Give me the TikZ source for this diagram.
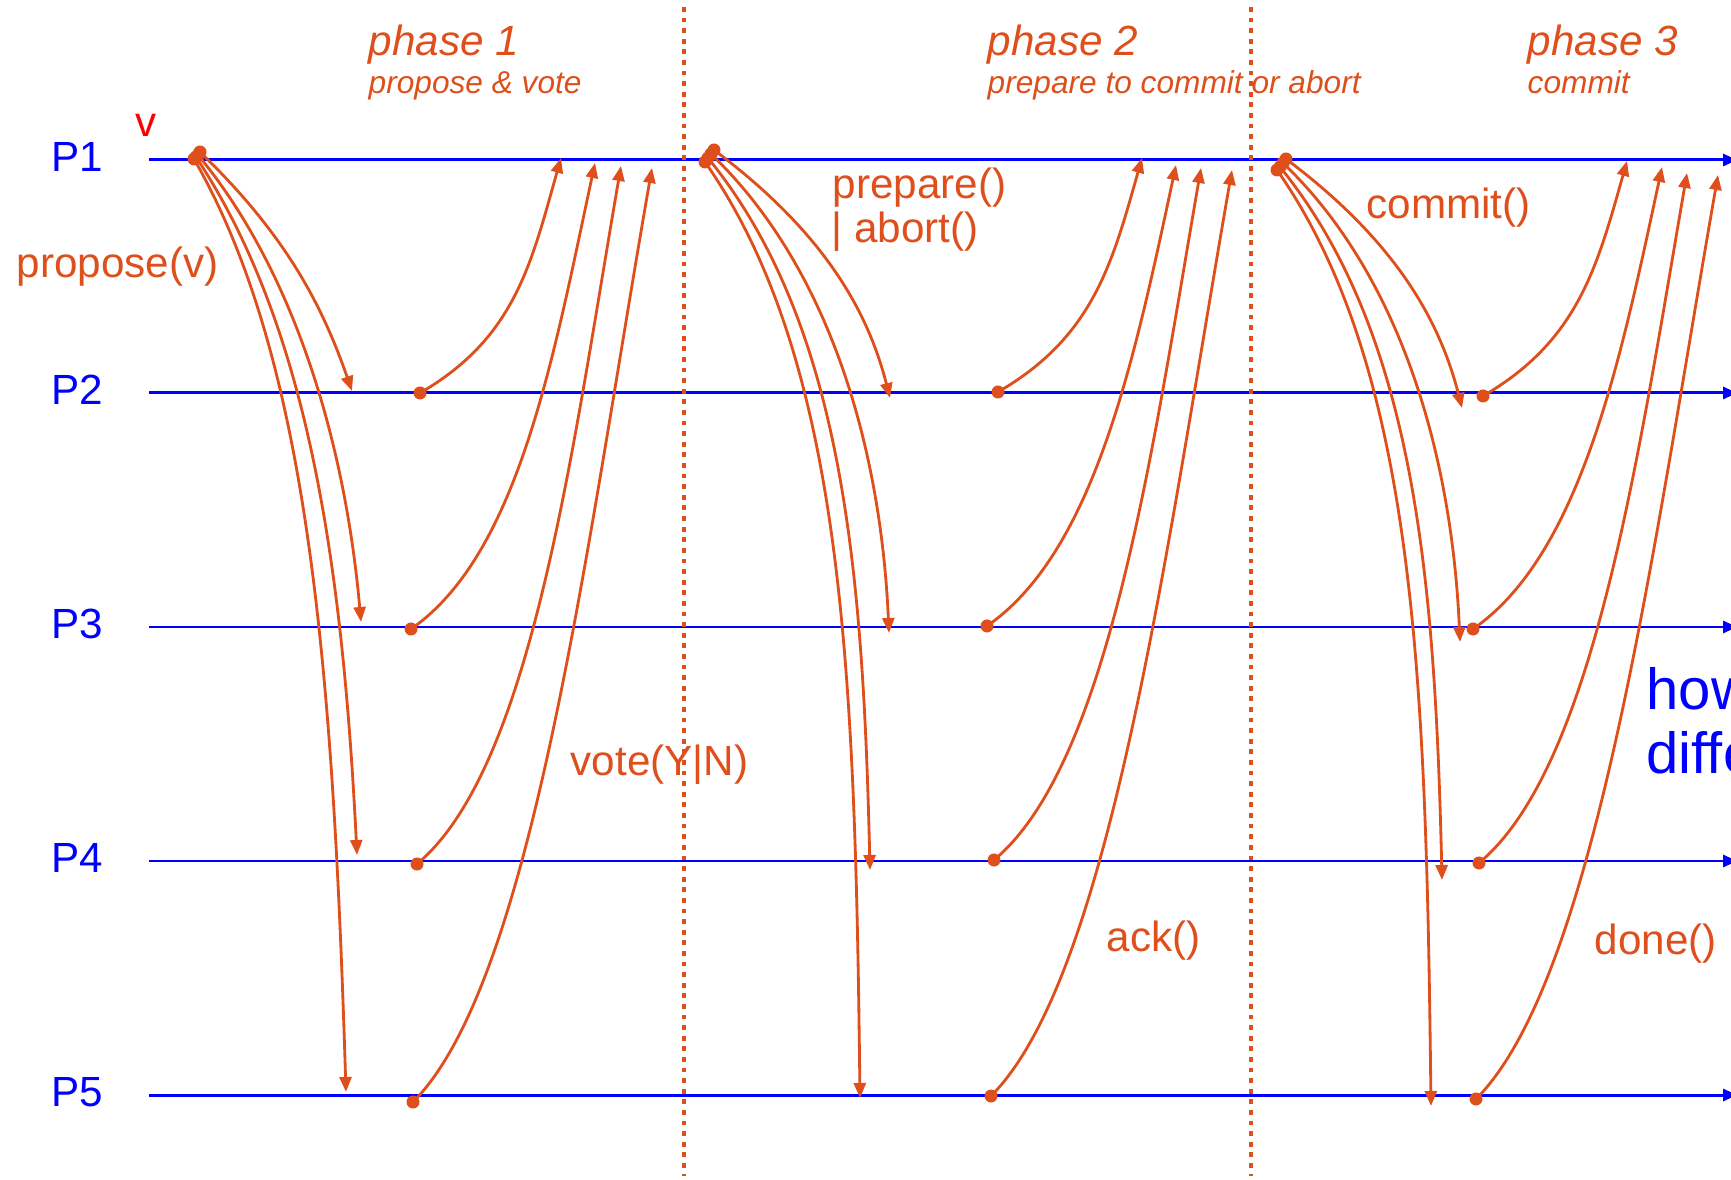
\documentclass[tikz,border=0pt]{standalone}
\usepackage{fontspec}
\setmainfont{Liberation Sans}
\usetikzlibrary{arrows.meta}
\definecolor{orng}{RGB}{222,79,28}
\definecolor{pblue}{RGB}{0,0,255}

\begin{document}
\begin{tikzpicture}[x=0.01cm,y=-0.01cm,
  tline/.style={pblue,line width=0.85pt,-{Triangle[length=0.14cm,width=0.12cm]}},
  sepline/.style={orng,line width=0.048cm,dash pattern=on 0.048cm off 0.058cm},
  msg/.style={orng,line width=0.8pt,-{Triangle[length=0.15cm,width=0.12cm]}},
  plbl/.style={pblue,inner sep=0pt,anchor=west,font=\fontsize{12}{14}\selectfont},
  lbl/.style={orng,inner sep=0pt,anchor=base west,font=\fontsize{12}{14}\selectfont},
  phase/.style={lbl,font=\fontsize{12}{14}\selectfont\itshape},
  phasesub/.style={lbl,font=\fontsize{9}{11}\selectfont\itshape},
  note/.style={pblue,inner sep=0pt,anchor=base west,font=\fontsize{16.5}{18}\selectfont}]
\useasboundingbox (0,0) rectangle (1731,1180);
\clip (0,0) rectangle (1731,1180);

% process lines
\coordinate (a1) at (149,160);  \coordinate (b1) at (1737,160);
\coordinate (a2) at (149,393);  \coordinate (b2) at (1737,393);
\coordinate (a3) at (149,627);  \coordinate (b3) at (1737,627);
\coordinate (a4) at (149,861);  \coordinate (b4) at (1737,861);
\coordinate (a5) at (149,1095); \coordinate (b5) at (1737,1095);
\draw[tline] (a1) -- (b1);
\draw[tline] (a2) -- (b2);
\draw[tline] (a3) -- (b3);
\draw[tline] (a4) -- (b4);
\draw[tline] (a5) -- (b5);
\node[plbl] (lp1) at (51,157) {P1};
\node[plbl] (lp2) at (51,390) {P2};
\node[plbl] (lp3) at (51,624) {P3};
\node[plbl] (lp4) at (51,858) {P4};
\node[plbl] (lp5) at (51,1092) {P5};

% labels
\node[lbl,text=red] (vl) at (135,137) {v};
\node[lbl] (prop) at (16,278) {propose(v)};
\node[phase] (ph1) at (368,56) {phase 1};
\node[phasesub] (ph1s) at (368,94) {propose \& vote};
\node[phase] (ph2) at (987,56) {phase 2};
\node[phasesub] (ph2s) at (987,94) {prepare to commit or abort};
\node[phase] (ph3) at (1527,56) {phase 3};
\node[phasesub] (ph3s) at (1527,94) {commit};
\node[lbl] (prep) at (832,199) {prepare()};
\node[lbl] (abrt) at (831,243) {| abort()};
\node[lbl] (cmt) at (1366,219) {commit()};
\node[lbl] (vote) at (570,775) {vote(Y|N)};
\node[lbl] (ack) at (1106,951) {ack()};
\node[lbl] (done) at (1594,954) {done()};
\node[note] (how) at (1646,710) {how};
\node[note] (diff) at (1646,773) {different};

% phase borders
\coordinate (q1) at (684,7);  \coordinate (q1b) at (684,1176);
\coordinate (q2) at (1251,7); \coordinate (q2b) at (1251,1176);
\draw[sepline] (q1) -- (q1b);
\draw[sepline] (q2) -- (q2b);

% phase 1
\coordinate (s12) at (200,152); \coordinate (t12) at (352,391);
\coordinate (s13) at (198,155); \coordinate (t13) at (361,622);
\coordinate (s14) at (196,157); \coordinate (t14) at (357,855);
\coordinate (s15) at (194,159); \coordinate (t15) at (346,1092);
\coordinate (d12) at (420,393);  \coordinate (u12) at (561,158);
\coordinate (d13) at (411,629);  \coordinate (u13) at (595,163);
\coordinate (d14) at (417,864);  \coordinate (u14) at (621,166);
\coordinate (d15) at (413,1102); \coordinate (u15) at (652,168);
\draw[msg] (s12) .. controls +(86,83) and +(-30,-86) .. (t12);
\draw[msg] (s13) .. controls +(96,116) and +(-16,-180) .. (t13);
\draw[msg] (s14) .. controls +(110,166) and +(-15,-300) .. (t14);
\draw[msg] (s15) .. controls +(115,200) and +(-13,-420) .. (t15);
\draw[msg] (d12) .. controls +(95,-55) and +(-30,106) .. (u12);
\draw[msg] (d13) .. controls +(107,-74) and +(-42,196) .. (u13);
\draw[msg] (d14) .. controls +(115,-96) and +(-49,284) .. (u14);
\draw[msg] (d15) .. controls +(120,-120) and +(-65,372) .. (u15);

% phase 2
\coordinate (s22) at (714,150); \coordinate (t22) at (890,398);
\coordinate (s23) at (711,154); \coordinate (t23) at (889,633);
\coordinate (s24) at (708,158); \coordinate (t24) at (870,870);
\coordinate (s25) at (705,162); \coordinate (t25) at (860,1098);
\coordinate (d22) at (998,392);  \coordinate (u22) at (1142,158);
\coordinate (d23) at (987,626);  \coordinate (u23) at (1176,165);
\coordinate (d24) at (994,860);  \coordinate (u24) at (1201,168);
\coordinate (d25) at (991,1096); \coordinate (u25) at (1232,170);
\draw[msg] (s22) .. controls +(111,83) and +(-22,-86) .. (t22);
\draw[msg] (s23) .. controls +(121,116) and +(-8,-180) .. (t23);
\draw[msg] (s24) .. controls +(135,166) and +(-7,-300) .. (t24);
\draw[msg] (s25) .. controls +(140,200) and +(-5,-420) .. (t25);
\draw[msg] (d22) .. controls +(95,-55) and +(-30,106) .. (u22);
\draw[msg] (d23) .. controls +(107,-74) and +(-42,196) .. (u23);
\draw[msg] (d24) .. controls +(115,-96) and +(-49,284) .. (u24);
\draw[msg] (d25) .. controls +(120,-120) and +(-65,372) .. (u25);

% phase 3
\coordinate (s32) at (1286,159); \coordinate (t32) at (1462,408);
\coordinate (s33) at (1283,163); \coordinate (t33) at (1460,642);
\coordinate (s34) at (1280,167); \coordinate (t34) at (1442,880);
\coordinate (s35) at (1277,170); \coordinate (t35) at (1431,1106);
\coordinate (d32) at (1483,396);  \coordinate (u32) at (1627,161);
\coordinate (d33) at (1473,629);  \coordinate (u33) at (1662,167);
\coordinate (d34) at (1479,863);  \coordinate (u34) at (1687,173);
\coordinate (d35) at (1476,1099); \coordinate (u35) at (1718,175);
\draw[msg] (s32) .. controls +(111,83) and +(-22,-86) .. (t32);
\draw[msg] (s33) .. controls +(121,116) and +(-8,-180) .. (t33);
\draw[msg] (s34) .. controls +(135,166) and +(-7,-300) .. (t34);
\draw[msg] (s35) .. controls +(140,200) and +(-5,-420) .. (t35);
\draw[msg] (d32) .. controls +(95,-55) and +(-30,106) .. (u32);
\draw[msg] (d33) .. controls +(107,-74) and +(-42,196) .. (u33);
\draw[msg] (d34) .. controls +(115,-96) and +(-49,284) .. (u34);
\draw[msg] (d35) .. controls +(120,-120) and +(-65,372) .. (u35);

% send points
\fill[orng] (s12) circle (0.065cm) (s13) circle (0.065cm) (s14) circle (0.065cm) (s15) circle (0.065cm);
\fill[orng] (s22) circle (0.065cm) (s23) circle (0.065cm) (s24) circle (0.065cm) (s25) circle (0.065cm);
\fill[orng] (s32) circle (0.065cm) (s33) circle (0.065cm) (s34) circle (0.065cm) (s35) circle (0.065cm);
\fill[orng] (d12) circle (0.065cm) (d13) circle (0.065cm) (d14) circle (0.065cm) (d15) circle (0.065cm);
\fill[orng] (d22) circle (0.065cm) (d23) circle (0.065cm) (d24) circle (0.065cm) (d25) circle (0.065cm);
\fill[orng] (d32) circle (0.065cm) (d33) circle (0.065cm) (d34) circle (0.065cm) (d35) circle (0.065cm);
\end{tikzpicture}
\end{document}
